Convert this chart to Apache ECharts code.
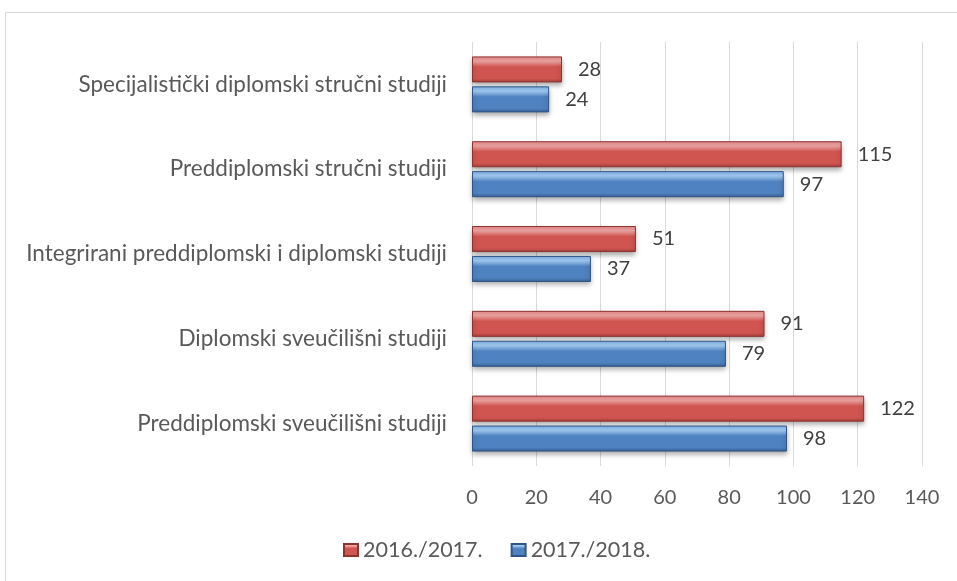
<!DOCTYPE html>
<html>
<head>
<meta charset="utf-8">
<script src="https://cdn.jsdelivr.net/npm/echarts@6/dist/echarts.min.js"></script>
<style>html,body{margin:0;padding:0;background:#fff}#c{width:957px;height:581px}</style>
</head>
<body>
<div id="c"></div>
<script>
const categories = ['Preddiplomski sveučilišni studiji','Diplomski sveučilišni studiji','Integrirani preddiplomski i diplomski studiji','Preddiplomski stručni studiji','Specijalistički diplomski stručni studiji'];
const seriesNames = ['2016./2017.','2017./2018.'];
const values2016 = [122, 91, 51, 115, 28];
const values2017 = [98, 79, 37, 97, 24];
const xTicks = [0, 140, 20];

const font = 'Lato, "Open Sans", sans-serif';
function grad(top, hi, mid, bot){
  return new echarts.graphic.LinearGradient(0,0,0,1,[
    {offset:0, color:top},{offset:0.18, color:hi},{offset:0.4, color:mid},{offset:0.85, color:mid},{offset:1, color:bot}
  ]);
}
const redFill = grad('#e98a88','#f2a9a7','#d05450','#a33f3c');
const blueFill = grad('#7fb0e8','#a5cff7','#4f82c0','#385f92');

const chart = echarts.init(document.getElementById('c'));
chart.setOption({
  animation:false,
  graphic:[{type:'rect',shape:{x:5.5,y:12.5,width:1000,height:1000},style:{fill:'none',stroke:'#d9d9d9',lineWidth:1},silent:true}],
  grid:{left:472,right:35,top:42,bottom:115,containLabel:false},
  legend:{
    data:seriesNames, bottom:15, left:338, itemWidth:14, itemHeight:12, itemGap:28,
    textStyle:{fontFamily:font,fontSize:21.5,color:'#595959'}, icon:'rect'
  },
  xAxis:{type:'value',min:xTicks[0],max:xTicks[1],interval:xTicks[2],
    axisLine:{show:false},axisTick:{show:false},
    splitLine:{lineStyle:{color:'#d9d9d9',width:1}},
    axisLabel:{fontFamily:font,fontSize:20,color:'#595959',margin:22}},
  yAxis:{type:'category',data:categories,axisLine:{show:false},axisTick:{show:false},
    axisLabel:{fontFamily:font,fontSize:22.5,color:'#595959',margin:25}},
  series:[
    {name:seriesNames[0],type:'bar',data:values2016,barGap:'15%',barCategoryGap:'34%',
      itemStyle:{color:redFill,borderColor:'#8c3330',borderWidth:1,shadowColor:'rgba(0,0,0,0.35)',shadowBlur:5,shadowOffsetY:3},
      label:{show:true,position:'right',distance:16,fontFamily:font,fontSize:20,color:'#404040'}},
    {name:seriesNames[1],type:'bar',data:values2017,barGap:'15%',barCategoryGap:'34%',
      itemStyle:{color:blueFill,borderColor:'#2f5585',borderWidth:1,shadowColor:'rgba(0,0,0,0.35)',shadowBlur:5,shadowOffsetY:3},
      label:{show:true,position:'right',distance:16,fontFamily:font,fontSize:20,color:'#404040'}}
  ]
});
</script>
</body>
</html>
